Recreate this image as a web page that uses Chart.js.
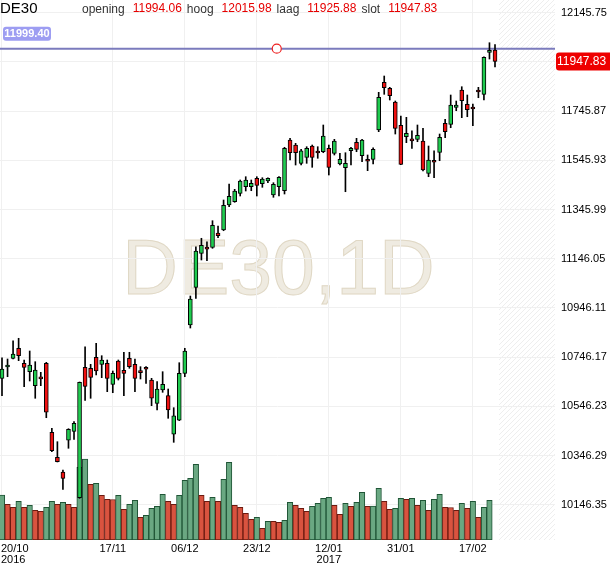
<!DOCTYPE html>
<html><head><meta charset="utf-8">
<script src="https://cdn.jsdelivr.net/npm/chart.js@4.4.0/dist/chart.umd.min.js"></script>
<style>html,body{margin:0;padding:0;background:#fff;overflow:hidden}#wrap{width:610px;height:568px;position:relative}</style>
</head><body><div id="wrap"><canvas id="c"></canvas></div>
<script>
const symbol = "DE30";
const timeframe = "1D";
const opens = [10660.0,10706,10741.3,10781.9,10721.0,10686.9,10630.0,10659.4,10721.0,10440.6,
10339.0,10279.3,10408.1,10444.6,10174.8,10704.7,10700.7,10745.4,10716.9,10721.0,
10635.6,10730.3,10692.5,10741.3,10716.9,10685.4,10698.8,10653.1,10558.4,10612.5,
10589.3,10432.5,10489.4,10680.3,10876.6,11029.8,11168.0,11193.6,11192.4,11250.5,
11262.7,11364.3,11377.7,11411.8,11438.7,11438.7,11472.8,11450.8,11461.8,11404.9,
11438.7,11422.4,11628.4,11608.1,11533.7,11558.1,11604.0,11577.8,11580.9,11594.7,
11574.4,11530.9,11515.9,11584.9,11619.1,11564.6,11544.1,11550.0,11669.1,11862.9,
11838.5,11782.9,11688.2,11641.8,11626.6,11631.3,11624.4,11493.1,11540.0,11578.4,
11696.3,11692.2,11761.3,11831.6,11773.5,11756.6,11825.7,11814.1,11984.8,11994.06];
const highs = [10743.7,10738.5,10812.8,10822.6,10734.4,10771.0,10727.5,10684.4,10725.0,10456.8,
10402.4,10287.4,10455.2,10483.7,10645.0,10788.4,10716.9,10802.3,10751.9,10734.4,
10689.7,10734.4,10765.7,10765.7,10738.5,10707.2,10707.2,10660.0,10646.2,10686.9,
10616.5,10540.6,10723.4,10782.0,10994.5,11194.8,11229.0,11215.1,11300.5,11278.9,
11384.6,11449.6,11428.1,11465.9,11479.3,11465.9,11479.3,11475.2,11475.2,11454.9,
11479.3,11598.8,11635.3,11615.0,11590.6,11601.2,11608.1,11601.2,11689.4,11608.1,
11631.3,11574.4,11576.8,11598.8,11635.3,11631.3,11567.5,11597.1,11822.3,11888.5,
11842.6,11786.9,11726.0,11720.7,11666.2,11689.4,11676.0,11604.0,11584.9,11652.8,
11712.5,11811.3,11786.9,11845.0,11811.3,11774.7,11842.6,11966.9,12023.8,12015.98];
const lows = [10589.3,10666.5,10738.5,10731.6,10625.9,10649.1,10578.8,10630.0,10499.9,10361.7,
10320.0,10208.9,10375.6,10412.1,10172.4,10570.6,10578.8,10673.4,10662.5,10605.6,
10601.5,10653.1,10589.3,10700.7,10605.6,10657.2,10639.7,10548.7,10531.2,10603.1,
10497.5,10399.9,10488.0,10666.5,10864.4,10985.1,11140.8,11137.9,11188.3,11231.4,
11259.8,11357.4,11375.3,11400.9,11421.2,11422.4,11400.9,11436.2,11454.9,11395.6,
11400.9,11409.0,11547.2,11526.8,11526.8,11533.7,11517.5,11554.1,11576.8,11486.2,
11567.5,11526.8,11418.3,11526.8,11580.9,11540.2,11503.7,11530.9,11662.2,11814.1,
11791.0,11652.8,11528.0,11617.5,11594.7,11621.5,11502.4,11479.3,11475.2,11544.3,
11637.8,11678.4,11747.5,11719.1,11723.1,11686.5,11800.3,11791.0,11957.6,11925.88];
const closes = [10697.8,10708,10758.8,10751.9,10704.7,10714.1,10693.8,10657.4,10521.9,10365.8,
10321.1,10253.6,10452.8,10477.2,10643.8,10627.5,10664.1,10689.7,10734.4,10660.0,
10680.3,10660.0,10680.3,10707.2,10660.0,10683.4,10696.8,10578.8,10616.5,10635.6,
10531.2,10508.0,10680.3,10771.0,10982.3,11177.4,11200.5,11184.3,11281.8,11239.5,
11363.1,11399.6,11421.2,11461.8,11465.9,11452.5,11444.3,11469.9,11472.8,11448.4,
11476.8,11594.7,11576.8,11576.8,11584.9,11594.7,11558.1,11575.8,11644.7,11517.5,
11624.4,11550.0,11533.7,11594.7,11590.6,11628.4,11542.1,11590.6,11802.0,11841.0,
11808.5,11676.0,11529.7,11655.7,11624.6,11647.5,11506.5,11547.2,11538.0,11639.4,
11662.2,11770.7,11770.7,11788.1,11751.6,11754.6,11823.7,11964.5,11991.3,11947.83];
const volumes = [45,35.7,32.7,38.7,32.7,34.7,29.7,28.7,32.7,38.7,
35.7,37.7,35.7,32.7,72.7,81,55.7,56.7,44.7,40.7,
40.5,44.7,30.7,35.7,39.7,22.7,24.7,31.7,33.7,45.7,
38.7,35.7,44.7,59.7,61.7,75.7,44.7,38.7,42.7,38.7,
60.7,77.7,34.7,32.7,26.7,20.7,22.7,11.7,18.7,18.6,
17.7,19.7,37.7,34.7,31.7,28.7,33.7,36.7,41.7,42.7,
34.7,25.7,36.7,33.7,37.7,47.7,33.7,33.9,51.7,38.7,
30.7,31.7,41.7,40.7,41.7,34.7,39.7,29.7,40.7,45.7,
32.7,32.5,29.7,36.7,31.7,38.7,22.7,32.7,39.7,null];
const tickIndex = [0,20,33,46,59,72,85];
const tickLabels = [["20/10","2016"],["17/11"],["06/12"],["23/12"],["12/01","2017"],["31/01"],["17/02"]];
const priceTicks = ["10146.35","10346.29","10546.23","10746.17","10946.11","11146.05","11345.99","11545.93","11745.87","11945.81","12145.75"];
const levelPrice = 11999.40;
const levelMarkIndex = 49.6;
const header = [["opening","11994.06"],["hoog","12015.98"],["laag","11925.88"],["slot","11947.83"]];

const FONT = '"Liberation Sans", Arial, Helvetica, sans-serif';
const idx = opens.map((_, i) => i);
const up = idx.map(i => closes[i] >= opens[i]);
const volIdx = idx.filter(i => volumes[i] !== null);
const volUp = volIdx.map(i => i === 0 || volumes[i] > volumes[i - 1]);

function noPad(s) { s.paddingTop = 0; s.paddingBottom = 0; s.paddingLeft = 0; s.paddingRight = 0; }

const decor = {
  id: 'decor',
  beforeDraw(chart) {
    const {ctx, chartArea: a, scales: {x}} = chart;
    const hx = x.getPixelForValue(opens.length - 1 + 0.72);
    ctx.save();
    ctx.beginPath(); ctx.rect(hx, a.top, a.right - hx, a.bottom - a.top); ctx.clip();
    ctx.strokeStyle = '#eeeeee'; ctx.lineWidth = 1;
    const h = a.bottom - a.top;
    for (let k = -h; k < (a.right - hx) + 10; k += 5) {
      ctx.beginPath(); ctx.moveTo(hx + k, a.bottom); ctx.lineTo(hx + k + h, a.top); ctx.stroke();
    }
    ctx.restore();
    ctx.save();
    ctx.font = '77px ' + FONT;
    ctx.textAlign = 'center'; ctx.textBaseline = 'alphabetic';
    ctx.fillStyle = '#efebe1'; ctx.strokeStyle = '#e0d8c5'; ctx.lineWidth = 1;
    const wx = (a.left + a.right) / 2 + 1, wy = (a.top + a.bottom) / 2 + 24;
    ctx.fillText(symbol + ',' + timeframe, wx, wy);
    ctx.strokeText(symbol + ',' + timeframe, wx, wy);
    ctx.restore();
  },
  afterDraw(chart) {
    const {ctx, chartArea: a, scales: {x, y}} = chart;
    ctx.save();
    ctx.font = '11px ' + FONT; ctx.fillStyle = '#000'; ctx.textAlign = 'center'; ctx.textBaseline = 'middle';
    tickIndex.forEach((v, k) => {
      const px = x.getPixelForValue(v);
      tickLabels[k].forEach((t, line) => {
        const w = ctx.measureText(t).width;
        const cx = Math.max(px, 1 + w / 2);
        ctx.fillText(t, cx, a.bottom + 9 + line * 11);
      });
    });
    const ly = y.getPixelForValue(levelPrice);
    ctx.fillStyle = '#9d9df2';
    ctx.beginPath(); ctx.roundRect(3, ly - 22, 48, 14, 3); ctx.fill();
    ctx.font = 'bold 11px ' + FONT; ctx.fillStyle = '#fff'; ctx.textAlign = 'center';
    ctx.fillText(levelPrice.toFixed(2), 27, ly - 14.5);
    const last = closes.length - 1;
    const cy = y.getPixelForValue(closes[last]);
    ctx.fillStyle = '#ee0000';
    ctx.beginPath(); ctx.roundRect(a.right + 1, cy - 9, 60, 18, 3); ctx.fill();
    ctx.font = '12px ' + FONT; ctx.fillStyle = '#fff'; ctx.textAlign = 'left';
    ctx.fillText(closes[last].toFixed(2), a.right + 2, cy + 0.5);
    ctx.textBaseline = 'alphabetic';
    ctx.font = '15px ' + FONT; ctx.fillStyle = '#000';
    ctx.fillText(symbol, 0, 13);
    let hx = 82;
    header.forEach(([lab, val]) => {
      ctx.font = '12px ' + FONT; ctx.fillStyle = '#333';
      ctx.fillText(lab, hx, 13); hx += ctx.measureText(lab).width + 8;
      ctx.fillStyle = '#e60000';
      ctx.fillText(val, hx, 11.5); hx += ctx.measureText(val).width + 5;
    });
    ctx.restore();
  }
};

new Chart(document.getElementById('c'), {
  type: 'bar',
  data: {
    datasets: [
      {type: 'scatter', label: 'mark', data: [{x: levelMarkIndex, y: levelPrice}], pointRadius: 4.5,
       pointBackgroundColor: '#fff', pointBorderColor: '#ee2222', pointBorderWidth: 1.2, order: 0},
      {type: 'bar', label: 'body', data: idx.map(i => ({x: i, y: [opens[i], closes[i]]})),
       backgroundColor: up.map(u => u ? '#1fcb4f' : '#ee1111'), borderColor: '#000', borderWidth: 1,
       borderSkipped: false, barThickness: 4, minBarLength: 2, grouped: false, order: 1},
      {type: 'bar', label: 'wick', data: idx.map(i => ({x: i, y: [lows[i], highs[i]]})),
       backgroundColor: '#000', borderWidth: 0, barThickness: 1, grouped: false, order: 2},
      {type: 'line', label: 'level', data: [{x: -5, y: levelPrice}, {x: 200, y: levelPrice}],
       borderColor: '#7b7bbd', borderWidth: 2, pointRadius: 0, order: 3},
      {type: 'bar', label: 'vol', yAxisID: 'y2', data: volIdx.map(i => ({x: i, y: volumes[i]})),
       backgroundColor: volUp.map(u => u ? '#6aa882' : '#d9533f'),
       borderColor: volUp.map(u => u ? '#1f5536' : '#6b1a10'), borderWidth: 1, borderSkipped: false,
       barThickness: 5.5, grouped: false, order: 4}
    ]
  },
  options: {
    responsive: true, maintainAspectRatio: false, animation: false, devicePixelRatio: 1,
    layout: {padding: 0, autoPadding: false},
    plugins: {legend: {display: false}, tooltip: {enabled: false}},
    scales: {
      x: {type: 'linear', offset: false, min: -0.361, max: 99.83,
          afterBuildTicks: s => { s.ticks = tickIndex.map(v => ({value: v})); },
          ticks: {display: false}, grid: {color: '#f0f0f0', drawTicks: false, offset: false}, border: {display: false},
          afterFit: s => { s.height = 28; noPad(s); }},
      y: {position: 'right', min: 10002.9, max: 12197.4,
          afterBuildTicks: s => { s.ticks = priceTicks.map(v => ({value: parseFloat(v)})); },
          ticks: {callback: v => Number(v).toFixed(2), color: '#000', font: {family: FONT, size: 11}, padding: 6},
          grid: {color: '#f0f0f0', drawTicks: false}, border: {display: false},
          afterFit: s => { s.width = 55; noPad(s); }},
      y2: {display: false, min: 0, max: 540}
    }
  },
  plugins: [decor]
});
</script></body></html>
